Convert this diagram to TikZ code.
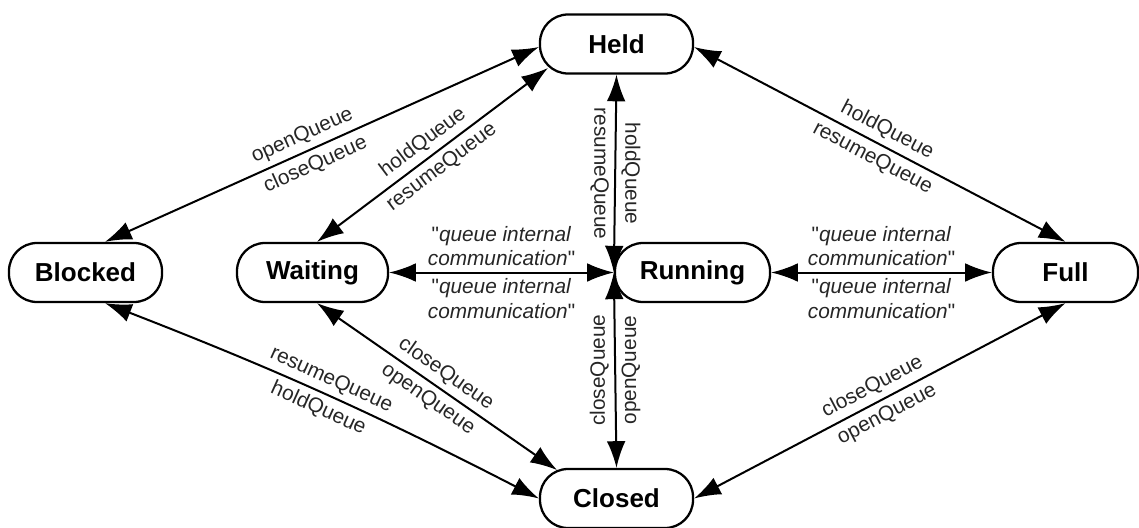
\documentclass[tikz,border=0pt]{standalone}
\usepackage{fontspec}
\setmainfont{Liberation Sans}
\newfontfamily\lblfont{Liberation Sans}
\usetikzlibrary{arrows.meta,calc}
\begin{document}
\begin{tikzpicture}[x=0.75pt,y=-0.75pt,
  state/.style={draw, line width=1.7pt, rounded corners=21pt, minimum width=114.75pt,
    minimum height=44.25pt, inner sep=0pt, font=\fontsize{19.5}{23}\selectfont\bfseries},
  conn/.style={line width=1.5pt, {Latex[length=20pt,width=14pt]}-{Latex[length=20pt,width=14pt]}},
  lbl/.style={font=\lblfont\fontsize{15.6}{18.5}\selectfont, text=black!85, inner sep=4pt},
  slbl/.style={lbl, sloped},
  qlbl/.style={lbl, align=center}
]
\useasboundingbox (0,0) rectangle (1139,528);

\node[state] (held) at (616.5,44) {Held};
\node[state] (blocked) at (85.5,272.5) {Blocked};
\node[state, minimum width=113.25pt] (waiting) at (312.5,272.5) {Waiting};
\node[state, minimum width=116.25pt] (running) at (692.5,272.5) {Running};
\node[state, minimum width=108.75pt] (full) at (1065.5,272.5) {Full};
\node[state] (closed) at (616.5,498.5) {Closed};

% Blocked -- Held
\draw[conn] ($(blocked.north)+(19.5,0)$) -- node[slbl,above,pos=0.47]{openQueue} node[slbl,below,pos=0.47]{closeQueue} ($(held.west)+(0,3)$);
% Waiting -- Held
\draw[conn] ($(waiting.north)+(4.5,0)$) -- node[slbl,above]{holdQueue} node[slbl,below]{resumeQueue} ($(held.center)+(-68.5,24)$);
% Held -- Running
\draw[conn] (held.south) -- node[lbl,rotate=-90,anchor=north]{resumeQueue} node[lbl,rotate=-90,anchor=south]{holdQueue} (running.west);
% Held -- Full
\draw[conn] ($(held.east)+(0,3)$) -- node[slbl,above]{holdQueue} node[slbl,below]{resumeQueue} (full.north);
% Waiting -- Running
\draw[conn] (waiting.east) -- node[qlbl,above]{"\textit{queue internal}\\\textit{communication}"} node[qlbl,below]{"\textit{queue internal}\\\textit{communication}"} (running.west);
% Running -- Full
\draw[conn] (running.east) -- node[qlbl,above]{"\textit{queue internal}\\\textit{communication}"} node[qlbl,below]{"\textit{queue internal}\\\textit{communication}"} (full.west);
% Running -- Closed
\draw[conn] (running.west) -- node[lbl,rotate=90,anchor=south]{closeQueue} node[lbl,rotate=90,anchor=north]{openQueue} (closed.north);
% Waiting -- Closed
\draw[conn] ($(waiting.south)+(4.5,0)$) -- node[slbl,above]{closeQueue} node[slbl,below]{openQueue} ($(closed.center)+(-59.5,-28.5)$);
% Blocked -- Closed
\draw[conn] ($(blocked.south)+(19.5,0)$) to[bend left=3] node[slbl,above]{resumeQueue} node[slbl,below]{holdQueue} (closed.west);
% Closed -- Full
\draw[conn] (closed.east) -- node[slbl,above]{closeQueue} node[slbl,below]{openQueue} (full.south);
\end{tikzpicture}
\end{document}
